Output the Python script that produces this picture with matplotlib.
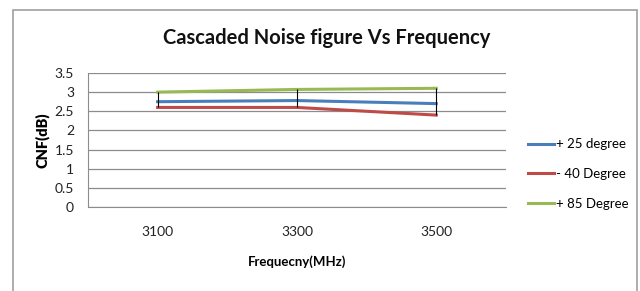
import matplotlib.pyplot as plt
import matplotlib.patches as mpatches
import numpy as np

# data
freqs = ['3100', '3300', '3500']
nf_25 = [2.75, 2.78, 2.70]
nf_m40 = [2.60, 2.60, 2.40]
nf_85 = [3.00, 3.07, 3.10]
series_names = ['+ 25 degree', '- 40 Degree', '+ 85 Degree']

plt.rcParams['font.family'] = ['Lato', 'DejaVu Sans']

fig = plt.figure(figsize=(6.4, 2.91), dpi=100)
ax = fig.add_axes([0.1375, 0.2887, 0.653, 0.4605])

# outer chart border
fig.patches.append(mpatches.Rectangle((13 / 640, -0.1), (637 - 13) / 640, 1 - 10 / 291 + 0.1,
                                      transform=fig.transFigure, fill=False,
                                      edgecolor='#a0a0a0', linewidth=1.2))

x = np.arange(len(freqs))
ax.plot(x, nf_25, color='#4A7EBB', lw=2.2, label=series_names[0], zorder=3)
ax.plot(x, nf_m40, color='#BE4B48', lw=2.2, label=series_names[1], zorder=3)
ax.plot(x, nf_85, color='#98B954', lw=2.2, label=series_names[2], zorder=3)

# high-low lines
allv = np.array([nf_25, nf_m40, nf_85])
ax.vlines(x, allv.min(axis=0), allv.max(axis=0), color='black', lw=0.8, zorder=4)

ax.set_xlim(-0.5, 2.5)
ax.set_ylim(0, 3.5)
ax.set_yticks(np.arange(0, 3.51, 0.5))
ax.set_yticklabels(['0', '0.5', '1', '1.5', '2', '2.5', '3', '3.5'])
ax.set_xticks(x)
ax.set_xticklabels(freqs)
ax.yaxis.grid(True, color='#8c8c8c', lw=0.9)
ax.set_axisbelow(True)
for s in ['top', 'right']:
    ax.spines[s].set_visible(False)
ax.spines['left'].set_color('#8c8c8c')
ax.spines['bottom'].set_color('#8c8c8c')
ax.tick_params(axis='both', length=0, labelsize=10, colors='#222222')
ax.tick_params(axis='x', pad=14)
ax.tick_params(axis='y', pad=10)

ax.set_xlabel('Frequecny(MHz)', fontsize=9.5, fontweight='bold', labelpad=12)
ax.set_ylabel('CNF(dB)', fontsize=10.5, fontweight='heavy', labelpad=4)

fig.text(0.511, 0.87, 'Cascaded Noise figure Vs Frequency', ha='center', va='center',
         fontsize=14.5, fontweight='bold', color='#111111')

ax.legend(loc='center left', bbox_to_anchor=(1.053, 0.246), frameon=False,
          fontsize=9.5, handlelength=2.0, handletextpad=0.15, labelspacing=1.35,
          borderpad=0, borderaxespad=0)

fig.savefig('out.png', dpi=100)
